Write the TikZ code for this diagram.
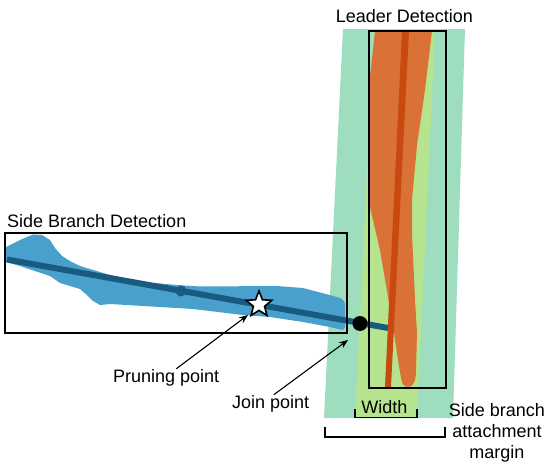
\documentclass[tikz,border=0pt]{standalone}
\usepackage{fontspec}
\setmainfont{Liberation Sans}
\usetikzlibrary{shapes.geometric,arrows.meta}
\definecolor{margingreen}{HTML}{9EDEBE}
\definecolor{widthgreen}{HTML}{B5E38E}
\definecolor{leaderorange}{HTML}{DA7137}
\definecolor{leaderaxis}{HTML}{C84A10}
\definecolor{branchblue}{HTML}{4AA0CC}
\definecolor{branchaxis}{HTML}{185A80}

\begin{document}
\begin{tikzpicture}[x=1pt,y=-1pt,
  lbl/.style={font=\fontsize{18}{21}\selectfont, inner sep=0pt},
  frame/.style={draw=black, line width=2pt, inner sep=0pt},
  pointer/.style={draw=black, line width=1.1pt, -{Stealth[length=9pt,width=7pt]}},
  bracket/.style={draw=black, line width=1.3pt}]
\useasboundingbox (0,0) rectangle (547,463);

% side branch attachment margin
\fill[margingreen] (343,29) -- (465,29) -- (453,418) -- (324,418) -- cycle;
% leader width band
\fill[widthgreen] (374,31) -- (435,31) -- (417,418) -- (355,418) -- cycle;
% leader mask
\fill[leaderorange] (375,31) -- (432,31) -- (425,90) -- (417,145) -- (412,200)
  -- (412,233) -- (415,300) -- (417,333) -- (416,370)
  .. controls (416,382) and (413,387) .. (408,387)
  .. controls (404,387) and (402,384) .. (401,378)
  -- (398,360) -- (394,333) -- (391,315) -- (388,297) -- (380,250) -- (369,203) -- (369,85) -- cycle;
% leader axis
\fill[leaderaxis] (402,31) -- (409,31) -- (391,387) -- (385,387) -- cycle;

% side branch mask
\fill[branchblue] (6,247) -- (20,240) -- (33,234.5) -- (42,235) -- (50,240) -- (55,248)
  -- (62,256) -- (70,261) -- (80,266) -- (110,275) -- (133,281) -- (177,285)
  -- (200,286.5) -- (277,286) -- (303,288) -- (337,297)
  .. controls (344,299) and (345,302) .. (345,306) -- (345,327) -- (343,330)
  -- (330,327) -- (303,322) -- (270,317) -- (243,315) -- (193,309) -- (160,307)
  -- (110,304) -- (100,305) -- (93,301) -- (87,295) -- (80,289) -- (60,283)
  -- (50,276) -- (20,266) -- (6,262) -- cycle;

% side branch axis
\coordinate (bstart) at (7,259.5);
\coordinate (bend) at (388,328);
\draw[branchaxis, line width=6pt] (bstart) -- (bend);
\node[circle, fill=branchaxis, minimum size=11pt, inner sep=0pt] (bnode) at (181,291) {};
\node[star, star points=5, star point ratio=2.3, minimum size=27pt, inner sep=0pt,
  draw=black, line width=1.6pt, fill=white] (prune) at (259,304.5) {};
\node[circle, fill=black, minimum size=15pt, inner sep=0pt] (join) at (360,323.5) {};

% detection frames
\node[frame, minimum width=342pt, minimum height=100pt] (sidebox) at (176,283) {};
\node[frame, minimum width=77pt, minimum height=357pt] (leaderbox) at (407.5,209.5) {};

% labels
\node[lbl, anchor=base] (leadertitle) at (404.5,22) {Leader Detection};
\node[lbl, anchor=base west] (sidetitle) at (7,227) {Side Branch Detection};
\node[lbl, anchor=base west] (prunelabel) at (113,382) {Pruning point};
\node[lbl, anchor=base west] (joinlabel) at (232,408) {Join point};
\node[lbl, anchor=base] (widthlabel) at (384.5,413) {Width};
\node[lbl, anchor=base, align=center] (marginlabel) at (497,458)
  {Side branch\\attachment\\margin};

% pointers
\coordinate (prunetip) at (248,315);
\coordinate (jointip) at (348,340);
\draw[pointer] ([xshift=10pt]prunelabel.north) -- (prunetip);
\draw[pointer] ([xshift=3pt]joinlabel.north) -- (jointip);

% width and margin brackets
\draw[bracket] (355,409) -- (355,417.5) -- (417,417.5) -- (417,409);
\draw[bracket] (325,427) -- (325,437) -- (445,437) -- (445,427);
\end{tikzpicture}
\end{document}
